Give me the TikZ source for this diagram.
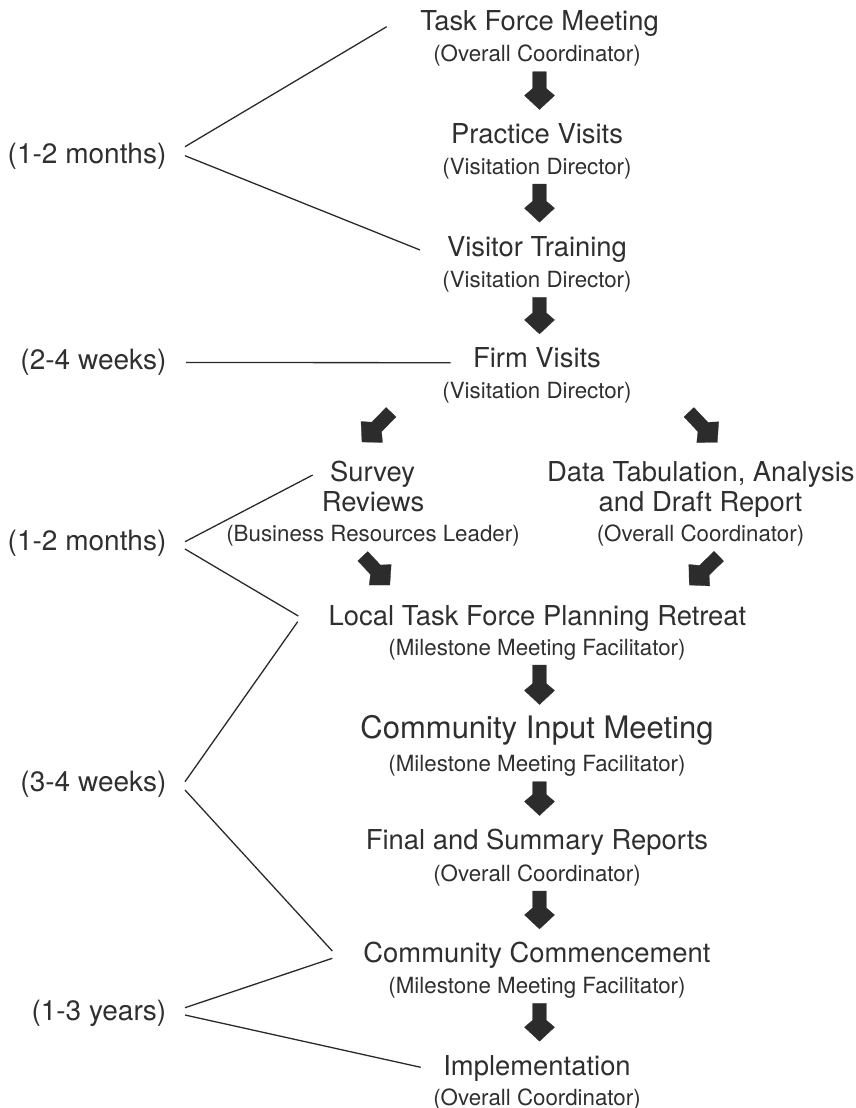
\documentclass[tikz,border=0pt]{standalone}
\usepackage{fontspec}
\setmainfont{TeX Gyre Heros}
\usetikzlibrary{calc}
\definecolor{ink}{HTML}{2F2F2F}
\definecolor{arrowc}{HTML}{2C2C2C}
\definecolor{linec}{HTML}{2A2A2A}
% block arrow from #1 (tail) to #2 (tip)
\newcommand\blockarrow[2]{%
  \path #1 coordinate (ba-a) #2 coordinate (ba-b);
  \coordinate (ba-j) at ($(ba-b)!21pt!(ba-a)$);
  \coordinate (ba-w) at ($(ba-b)!14pt!(ba-a)$);
  \fill[arrowshape] ($(ba-a)!6.8pt!90:(ba-b)$) -- ($(ba-j)!6.8pt!-90:(ba-a)$)
    -- ($(ba-w)!15pt!-90:(ba-a)$) -- (ba-b) -- ($(ba-w)!15pt!90:(ba-a)$)
    -- ($(ba-j)!6.8pt!90:(ba-a)$) -- ($(ba-a)!6.8pt!-90:(ba-b)$) -- cycle;}
\begin{document}
\begin{tikzpicture}[x=1pt,y=-1pt,
  titletext/.style={font=\fontsize{27.4}{31}\selectfont, text=ink, inner sep=0pt, anchor=base},
  bigtitle/.style={font=\fontsize{31}{35}\selectfont, text=ink, inner sep=0pt, anchor=base},
  subtext/.style={font=\fontsize{22.3}{26}\selectfont, text=ink, inner sep=0pt, anchor=base},
  spantext/.style={font=\fontsize{28}{32}\selectfont, text=ink, inner sep=0pt, anchor=base east},
  bracket/.style={draw=linec, line width=1.3pt},
  arrowshape/.style={fill=arrowc, draw=arrowc, line width=0.3pt, line join=miter}]
\useasboundingbox (0,0) rectangle (855,1108);

% main steps
\node[titletext] (t1) at (539.5,30.7) {Task Force Meeting};
\node[subtext]   (s1) at (537,61.7) {(Overall Coordinator)};
\node[titletext] (t2) at (537,143.3) {Practice Visits};
\node[subtext]   (s2) at (537,174) {(Visitation Director)};
\node[titletext] (t3) at (537,256) {Visitor Training};
\node[subtext]   (s3) at (537,287.3) {(Visitation Director)};
\node[titletext] (t4) at (537,367.7) {Firm Visits};
\node[subtext]   (s4) at (537,398.7) {(Visitation Director)};

\node[titletext] (t5a) at (372.5,481) {Survey};
\node[titletext] (t5b) at (373,511) {Reviews};
\node[subtext]   (s5)  at (373,541.7) {(Business Resources Leader)};

\node[titletext] (t6a) at (700.8,481) {Data Tabulation, Analysis};
\node[titletext] (t6b) at (700.5,511) {and Draft Report};
\node[subtext]   (s6)  at (700.5,541.7) {(Overall Coordinator)};

\node[titletext] (t7) at (537.5,625) {Local Task Force Planning Retreat};
\node[subtext]   (s7) at (537,655) {(Milestone Meeting Facilitator)};
\node[bigtitle]  (t8) at (537,738.3) {Community Input Meeting};
\node[subtext]   (s8) at (537,771.7) {(Milestone Meeting Facilitator)};
\node[titletext] (t9) at (537,849.3) {Final and Summary Reports};
\node[subtext]   (s9) at (537,881) {(Overall Coordinator)};
\node[titletext] (t10) at (537,962.7) {Community Commencement};
\node[subtext]   (s10) at (537,993.3) {(Milestone Meeting Facilitator)};
\node[titletext] (t11) at (537,1075) {Implementation};
\node[subtext]   (s11) at (537,1105) {(Overall Coordinator)};

% durations
\node[spantext] (d1) at (166.5,163.3) {(1-2 months)};
\node[spantext] (d2) at (166.5,369) {(2-4 weeks)};
\node[spantext] (d3) at (166.5,550) {(1-2 months)};
\node[spantext] (d4) at (166.5,791.7) {(3-4 weeks)};
\node[spantext] (d5) at (166.5,1020) {(1-3 years)};

% bracket lines
\draw[bracket] ($(d1.base east)+(18.5,-16.6)$) -- ($(t1.base)+(-152.8,-4)$);
\draw[bracket] ($(d1.base east)+(18.5,-7.6)$) -- ($(t3.base)+(-117,-6)$);
\draw[bracket] ($(d2.base east)+(19.5,-6.5)$) -- ($(t4.base)+(-86.3,-5)$);
\draw[bracket] ($(d3.base east)+(18.5,-8.3)$) -- ($(t5a.base)+(-59.8,-6)$);
\draw[bracket] ($(d3.base east)+(18.5,-1)$) -- ($(t7.base)+(-239.2,-9)$);
\draw[bracket] ($(d4.base east)+(18.5,-10)$) -- ($(t7.base)+(-239.8,-3.3)$);
\draw[bracket] ($(d4.base east)+(18.5,-1.7)$) -- ($(t10.base)+(-204.7,-11.7)$);
\draw[bracket] ($(d5.base east)+(18.5,-12.3)$) -- ($(t10.base)+(-204.7,-4.4)$);
\draw[bracket] ($(d5.base east)+(18.5,-5)$) -- ($(t11.base)+(-116.3,-7.7)$);

% flow arrows
\blockarrow{($(s1.base)+(2.5,10)$)}{($(t2.base)+(2.5,-33.8)$)}
\blockarrow{($(s2.base)+(2.5,10)$)}{($(t3.base)+(2.5,-33.8)$)}
\blockarrow{($(s3.base)+(2.5,10)$)}{($(t4.base)+(2.5,-33.8)$)}
\blockarrow{($(s4.base)+(-146,13.5)$)}{($(t5a.base)+(-10.5,-39)$)}
\blockarrow{($(s4.base)+(152,13.5)$)}{($(t6a.base)+(16.5,-38.7)$)}
\blockarrow{($(s5.base)+(-10.2,14.5)$)}{($(t7.base)+(-147.7,-40)$)}
\blockarrow{($(s6.base)+(18.3,14.5)$)}{($(t7.base)+(151.8,-40)$)}
\blockarrow{($(s7.base)+(2.5,10)$)}{($(t8.base)+(2.5,-33.8)$)}
\blockarrow{($(s8.base)+(2.5,10)$)}{($(t9.base)+(2.5,-33.8)$)}
\blockarrow{($(s9.base)+(2.5,10)$)}{($(t10.base)+(2.5,-33.8)$)}
\blockarrow{($(s10.base)+(2.5,10)$)}{($(t11.base)+(2.5,-33.8)$)}
\end{tikzpicture}
\end{document}
